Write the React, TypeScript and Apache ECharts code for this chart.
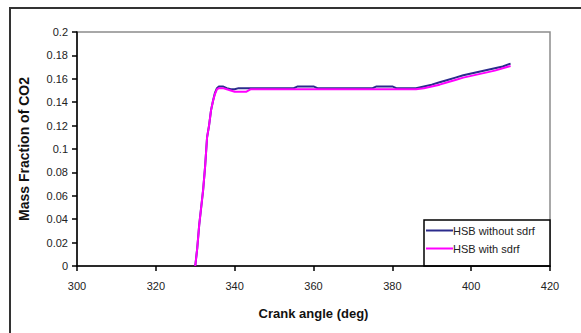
import React, { useEffect, useRef } from "react";
import * as echarts from "echarts";

// Crank angle samples (deg)
const angles = [
  330, 330.5, 331, 331.5, 332, 332.5, 333, 333.5, 334, 334.5, 335, 335.5, 336, 337, 338,
  339, 340, 341, 342, 343, 344, 345, 350, 355, 356, 360, 361, 370, 375, 376, 380, 381,
  386, 388, 390, 392, 394, 396, 398, 400, 402, 404, 406, 408, 410,
];

// CO2 mass fraction, HSB without sdrf
const withoutSdrf = [
  0, 0.015, 0.035, 0.05, 0.065, 0.085, 0.11, 0.12, 0.133, 0.141, 0.148, 0.152, 0.1535,
  0.1535, 0.152, 0.151, 0.151, 0.152, 0.152, 0.152, 0.152, 0.152, 0.152, 0.152, 0.1535,
  0.1535, 0.152, 0.152, 0.152, 0.1535, 0.1535, 0.152, 0.152, 0.1535, 0.155, 0.157, 0.159,
  0.161, 0.163, 0.1645, 0.166, 0.1675, 0.169, 0.1705, 0.173,
];

// CO2 mass fraction, HSB with sdrf
const withSdrf = [
  0, 0.015, 0.035, 0.05, 0.065, 0.085, 0.11, 0.12, 0.133, 0.141, 0.147, 0.151, 0.152,
  0.152, 0.151, 0.15, 0.149, 0.149, 0.149, 0.149, 0.151, 0.151, 0.151, 0.151, 0.151,
  0.151, 0.151, 0.151, 0.151, 0.151, 0.151, 0.151, 0.151, 0.152, 0.1535, 0.155, 0.157,
  0.159, 0.161, 0.1625, 0.164, 0.1655, 0.167, 0.169, 0.171,
];

const seriesNames = ["HSB without sdrf", "HSB with sdrf"];
const seriesColors = ["#2b2b8c", "#ff00ff"];

const FONT = "'Liberation Sans', Arial, sans-serif";

export default function App() {
  const ref = useRef<HTMLDivElement>(null);

  useEffect(() => {
    if (!ref.current) return;
    const chart = echarts.init(ref.current, undefined, { renderer: "svg" });
    const pairs = (vals: number[]) => angles.map((a, i) => [a, vals[i]]);

    chart.setOption({
      animation: false,
      backgroundColor: "#ffffff",
      textStyle: { fontFamily: FONT },
      grid: {
        left: 77,
        top: 32,
        right: 31,
        bottom: 67,
        show: true,
        borderColor: "#8c8c8c",
        borderWidth: 1.5,
        backgroundColor: "#ffffff",
      },
      xAxis: {
        type: "value",
        min: 300,
        max: 420,
        interval: 20,
        name: "Crank angle (deg)",
        nameLocation: "middle",
        nameGap: 41,
        nameTextStyle: { fontSize: 13, fontWeight: "bold", color: "#111", fontFamily: FONT },
        axisLine: { lineStyle: { color: "#000", width: 1.5 } },
        axisTick: { show: true, length: 5, lineStyle: { color: "#000", width: 1.5 } },
        axisLabel: { fontSize: 11, color: "#222", margin: 14, fontFamily: FONT },
        splitLine: { show: false },
      },
      yAxis: {
        type: "value",
        min: 0,
        max: 0.2,
        interval: 0.02,
        name: "Mass Fraction of CO2",
        nameLocation: "middle",
        nameRotate: 90,
        nameGap: 46,
        nameTextStyle: { fontSize: 14, fontWeight: "bold", color: "#111", fontFamily: FONT },
        axisLine: { show: true, lineStyle: { color: "#000", width: 1.5 } },
        axisTick: { show: true, length: 5, lineStyle: { color: "#000", width: 1.5 } },
        axisLabel: { fontSize: 11, color: "#222", margin: 9, fontFamily: FONT },
        splitLine: { show: false },
      },
      legend: {
        orient: "vertical",
        left: 426,
        top: 225,
        padding: 0,
        itemGap: 7,
        itemWidth: 27,
        itemHeight: 2,
        icon: "rect",
        textStyle: { fontSize: 11, color: "#222", padding: [0, 0, 0, -5], fontFamily: FONT },
        data: seriesNames,
      },
      graphic: [
        {
          type: "polyline",
          shape: { points: [[10, 333], [10, 8], [581, 8]] },
          style: { stroke: "#333", lineWidth: 2, fill: "none" },
          z: 10,
        },
        {
          type: "rect",
          shape: { x: 424, y: 220, width: 126, height: 46 },
          style: { fill: "#ffffff", stroke: "#000", lineWidth: 1.5 },
          z: 0,
          silent: true,
        },
      ],
      series: [
        {
          name: seriesNames[0],
          type: "line",
          data: pairs(withoutSdrf),
          showSymbol: false,
          color: seriesColors[0],
          lineStyle: { width: 2, color: seriesColors[0] },
          z: 2,
        },
        {
          name: seriesNames[1],
          type: "line",
          data: pairs(withSdrf),
          showSymbol: false,
          color: seriesColors[1],
          lineStyle: { width: 2, color: seriesColors[1] },
          z: 3,
        },
      ],
    });

    return () => chart.dispose();
  }, []);

  return <div ref={ref} style={{ width: 581, height: 333, position: "absolute", left: 0, top: 0 }} />;
}
